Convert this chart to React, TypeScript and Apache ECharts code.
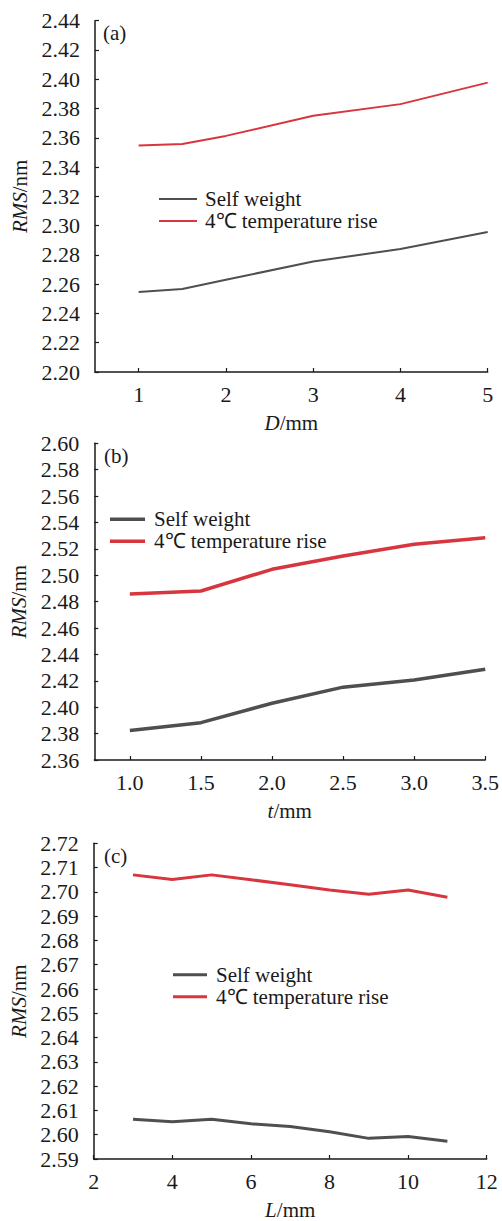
import React, { useEffect, useRef } from 'react';
import * as echarts from 'echarts';

// Panel (a): D/mm
const xA = [1, 1.5, 2, 3, 4, 5];
const selfA = [2.2546, 2.2567, 2.263, 2.2755, 2.284, 2.2956];
const riseA = [2.3547, 2.3558, 2.3613, 2.375, 2.383, 2.3977];
const xTicksA = [1, 2, 3, 4, 5];
const yTicksA = [2.2, 2.22, 2.24, 2.26, 2.28, 2.3, 2.32, 2.34, 2.36, 2.38, 2.4, 2.42, 2.44];

// Panel (b): t/mm
const xB = [1.0, 1.5, 2.0, 2.5, 3.0, 3.5];
const selfB = [2.3823, 2.3883, 2.403, 2.4152, 2.4207, 2.4288];
const riseB = [2.4858, 2.4881, 2.5045, 2.5146, 2.5235, 2.5285];
const xTicksB = [1.0, 1.5, 2.0, 2.5, 3.0, 3.5];
const yTicksB = [2.36, 2.38, 2.4, 2.42, 2.44, 2.46, 2.48, 2.5, 2.52, 2.54, 2.56, 2.58, 2.6];

// Panel (c): L/mm
const xC = [3, 4, 5, 6, 7, 8, 9, 10, 11];
const selfC = [2.6064, 2.6053, 2.6064, 2.6045, 2.6034, 2.6012, 2.5985, 2.5993, 2.5973];
const riseC = [2.707, 2.7051, 2.707, 2.705, 2.7029, 2.7008, 2.699, 2.7008, 2.6978];
const xTicksC = [2, 4, 6, 8, 10, 12];
const yTicksC = [2.59, 2.6, 2.61, 2.62, 2.63, 2.64, 2.65, 2.66, 2.67, 2.68, 2.69, 2.7, 2.71, 2.72];

const seriesNames = ['Self weight', '4℃ temperature rise'];
const panelLabels = ['(a)', '(b)', '(c)'];
const xNames = ['D', 't', 'L'];

const FONT = 'Times New Roman, Times, serif';
const TEXT = '#1a1a1a';
const GRAY = '#4f4f4f';
const RED = '#d8363e';

export default function App() {
  const ref = useRef<HTMLDivElement>(null);
  useEffect(() => {
    if (!ref.current) return;
    const chart = echarts.init(ref.current, undefined, { renderer: 'svg' });

    const panels = [
      { x: xA, s: selfA, r: riseA, xt: xTicksA, yt: yTicksA, xmin: 0.5, xmax: 5, ymin: 2.2, ymax: 2.44,
        grid: { left: 95, top: 20.7, width: 392.7, height: 351.3 }, xDec: 0, lw: 2,
        legend: { left: 159, top: 188.5, w: 38, h: 2.2, pad: 3, gap: 1 }, lab: { left: 103, top: 22 }, xGap: 40 },
      { x: xB, s: selfB, r: riseB, xt: xTicksB, yt: yTicksB, xmin: 0.75, xmax: 3.5, ymin: 2.36, ymax: 2.6,
        grid: { left: 94.3, top: 443.3, width: 392.4, height: 316.7 }, xDec: 1, lw: 3.5,
        legend: { left: 110, top: 508.8, w: 35, h: 3.5, pad: 4, gap: 1 }, lab: { left: 104, top: 445 }, xGap: 40 },
      { x: xC, s: selfC, r: riseC, xt: xTicksC, yt: yTicksC, xmin: 2, xmax: 12, ymin: 2.59, ymax: 2.72,
        grid: { left: 93.7, top: 843.3, width: 393, height: 316.7 }, xDec: 0, lw: 3,
        legend: { left: 173, top: 964.2, w: 34, h: 3, pad: 4, gap: 1 }, lab: { left: 104, top: 845 }, xGap: 40 },
    ];

    const axisLine = { show: true, onZero: false, lineStyle: { color: TEXT, width: 1.5 } };
    const axisTick = (vals: number[]) => ({ show: true, inside: true, length: 4, customValues: vals, lineStyle: { color: TEXT, width: 1.2 } });

    const option: any = {
      animation: false,
      backgroundColor: '#ffffff',
      textStyle: { fontFamily: FONT },
      grid: panels.map((p) => ({ ...p.grid, containLabel: false })),
      xAxis: panels.map((p, i) => ({
        type: 'value', gridIndex: i, min: p.xmin, max: p.xmax,
        axisLine, axisTick: axisTick(p.xt), splitLine: { show: false },
        axisLabel: { customValues: p.xt, margin: 11, fontFamily: FONT, fontSize: 22, color: TEXT,
          formatter: (v: number) => v.toFixed(p.xDec) },
        name: `{i|${xNames[i]}}/mm`, nameLocation: 'middle', nameGap: p.xGap,
        nameTextStyle: { fontFamily: FONT, fontSize: 21, color: TEXT,
          rich: { i: { fontFamily: FONT, fontSize: 21, fontStyle: 'italic', color: TEXT } } },
      })),
      yAxis: panels.map((p, i) => ({
        type: 'value', gridIndex: i, min: p.ymin, max: p.ymax,
        axisLine, axisTick: axisTick(p.yt), splitLine: { show: false },
        axisLabel: { customValues: p.yt, margin: 15, fontFamily: FONT, fontSize: 22, color: TEXT,
          formatter: (v: number) => v.toFixed(2) },
        name: '{i|RMS}/nm', nameLocation: 'middle', nameGap: 64, nameRotate: 90,
        nameTextStyle: { fontFamily: FONT, fontSize: 21, color: TEXT,
          rich: { i: { fontFamily: FONT, fontSize: 21, fontStyle: 'italic', color: TEXT } } },
      })),
      legend: panels.map((p) => ({
        data: seriesNames, orient: 'vertical', left: p.legend.left, top: p.legend.top, padding: 0,
        icon: 'rect', itemWidth: p.legend.w, itemHeight: p.legend.h, itemGap: p.legend.gap,
        selectedMode: false,
        textStyle: { fontFamily: FONT, fontSize: 21, color: TEXT, lineHeight: 21, padding: [0, 0, 0, p.legend.pad] },
      })),
      series: panels.flatMap((p, i) => [
        { name: seriesNames[0], type: 'line', xAxisIndex: i, yAxisIndex: i, symbol: 'none', color: GRAY,
          lineStyle: { color: GRAY, width: p.lw }, itemStyle: { color: GRAY },
          data: p.x.map((x, k) => [x, p.s[k]]) },
        { name: seriesNames[1], type: 'line', xAxisIndex: i, yAxisIndex: i, symbol: 'none', color: RED,
          lineStyle: { color: RED, width: p.lw }, itemStyle: { color: RED },
          data: p.x.map((x, k) => [x, p.r[k]]) },
      ]),
      graphic: panels.map((p, i) => ({
        type: 'text', left: p.lab.left, top: p.lab.top,
        style: { text: panelLabels[i], fontFamily: FONT, fontSize: 21, fill: TEXT },
      })),
    };
    chart.setOption(option);
    return () => chart.dispose();
  }, []);
  return <div ref={ref} style={{ position: 'absolute', left: 0, top: 0, width: 502, height: 1221, background: '#fff' }} />;
}
